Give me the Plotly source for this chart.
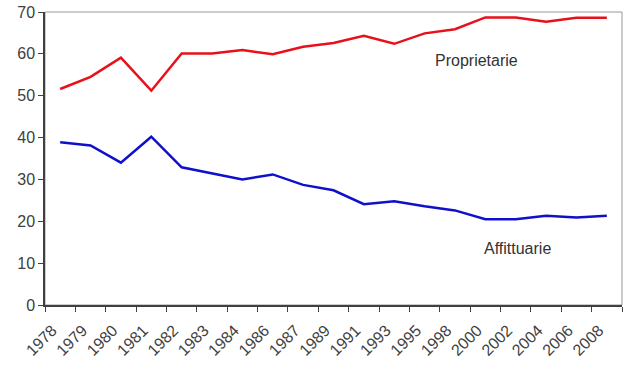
import plotly.graph_objects as go

years = ["1978", "1979", "1980", "1981", "1982", "1983", "1984", "1986", "1987", "1989",
         "1991", "1993", "1995", "1998", "2000", "2002", "2004", "2006", "2008"]
proprietarie = [51.6, 54.5, 59.1, 51.2, 60.1, 60.1, 60.9, 59.9, 61.7, 62.6,
                64.3, 62.4, 64.9, 65.9, 68.7, 68.7, 67.7, 68.6, 68.6]
affittuarie = [38.9, 38.1, 34.0, 40.2, 32.9, 31.5, 30.0, 31.2, 28.7, 27.4,
               24.1, 24.8, 23.6, 22.6, 20.5, 20.5, 21.3, 20.9, 21.3]

font_family = "Liberation Sans, Arial, sans-serif"
text_color = "#404040"

fig = go.Figure()
fig.add_trace(go.Scatter(x=years, y=proprietarie, mode="lines",
                         line=dict(color="#e8101a", width=2.5), name="Proprietarie"))
fig.add_trace(go.Scatter(x=years, y=affittuarie, mode="lines",
                         line=dict(color="#1010cc", width=2.5), name="Affittuarie"))

fig.add_annotation(x=13.7, y=58.5, text="Proprietarie", showarrow=False,
                   xanchor="center", yanchor="middle",
                   font=dict(size=16, color="#333333", family=font_family))
fig.add_annotation(x=15.07, y=13.4, text="Affittuarie", showarrow=False,
                   xanchor="center", yanchor="middle",
                   font=dict(size=16, color="#333333", family=font_family))

fig.update_layout(
    width=640, height=366,
    margin=dict(l=45, r=18, t=12, b=61),
    paper_bgcolor="white", plot_bgcolor="white",
    showlegend=False,
    font=dict(family=font_family, color=text_color, size=16),
)
fig.update_xaxes(
    type="category", tickson="boundaries", tickangle=-45,
    range=[-0.5, len(years) - 0.5], automargin=False,
    ticks="outside", ticklen=5, tickcolor="#404040",
    ticklabelstandoff=8, ticklabelshift=-8,
    showline=True, linecolor="#404040", linewidth=1.5, mirror=False,
    showgrid=False, zeroline=False,
    tickfont=dict(size=16, color=text_color),
)
fig.update_yaxes(
    range=[0, 70], dtick=10, ticks="outside", ticklen=5, tickcolor="#404040",
    automargin=False,
    showline=True, linecolor="#404040", linewidth=1.5,
    showgrid=False, zeroline=False,
    tickfont=dict(size=16, color=text_color),
)
# plot area border (top and right)
fig.add_shape(type="rect", xref="paper", yref="paper", x0=0, y0=0, x1=1, y1=1,
              line=dict(color="#999999", width=1), layer="below")

fig.write_html("out.html", config={"displayModeBar": False},
               post_script="document.body.style.margin='0';")
